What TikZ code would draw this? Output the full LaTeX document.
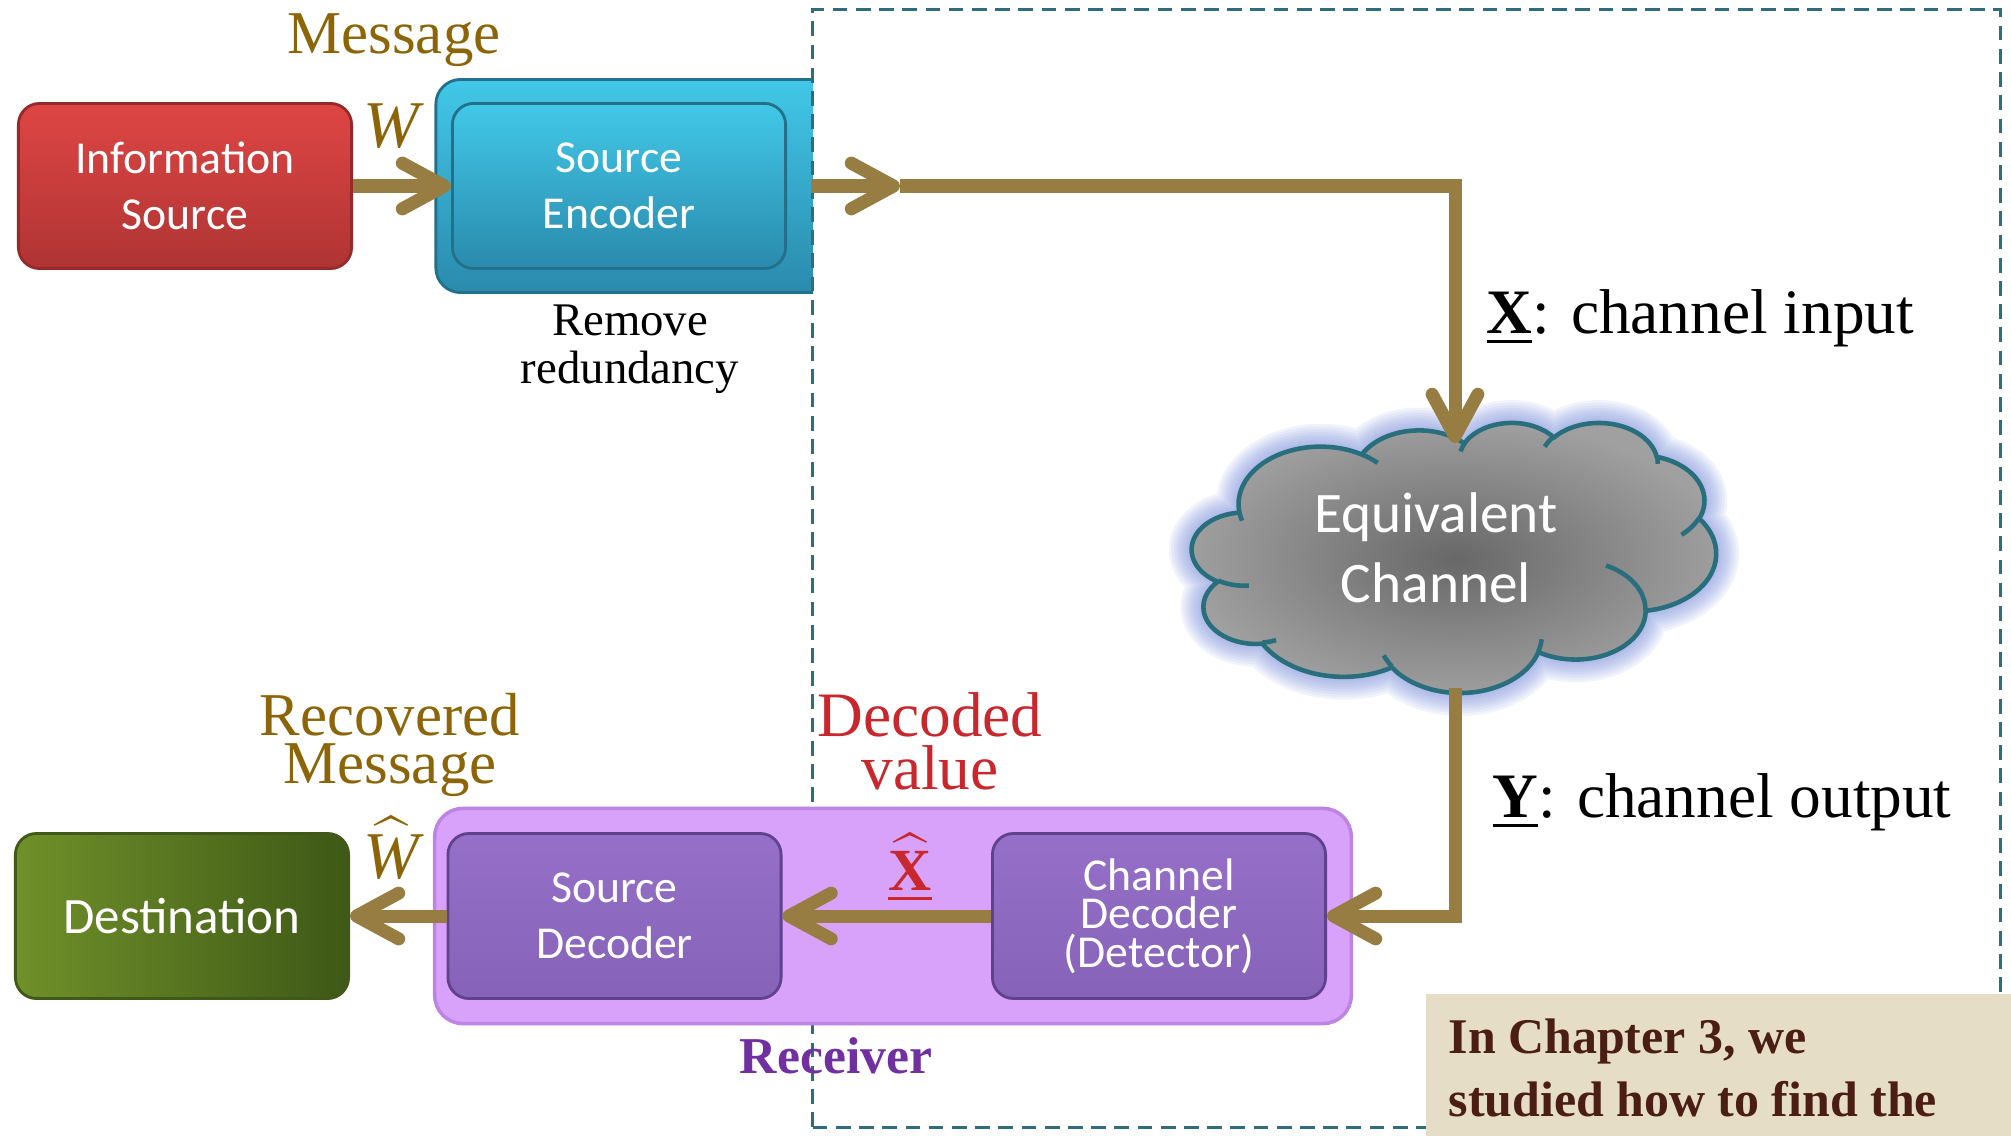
\documentclass[tikz,border=0pt]{standalone}
\usepackage{exscale}
\usepackage{fontspec}
\setmainfont{Liberation Serif}
\newfontfamily\boxfont{Carlito}
\usetikzlibrary{arrows.meta}

\definecolor{arrowgold}{RGB}{151,125,66}
\definecolor{labelgold}{RGB}{139,101,8}
\definecolor{labelred}{RGB}{200,40,45}
\definecolor{labelpurple}{RGB}{112,48,160}
\definecolor{notebrown}{RGB}{74,30,20}
\definecolor{notetan}{RGB}{229,221,198}
\definecolor{frameteal}{RGB}{47,108,125}
\definecolor{redtop}{RGB}{222,70,68}
\definecolor{redbot}{RGB}{175,52,52}
\definecolor{redline}{RGB}{150,42,42}
\definecolor{cyantop}{RGB}{66,200,232}
\definecolor{cyanbot}{RGB}{42,138,172}
\definecolor{cyanline}{RGB}{36,112,140}
\definecolor{purplelight}{RGB}{216,162,250}
\definecolor{purplelightline}{RGB}{190,132,228}
\definecolor{purpletop}{RGB}{150,112,200}
\definecolor{purplebot}{RGB}{134,98,184}
\definecolor{purpleline}{RGB}{96,66,140}
\definecolor{greenleft}{RGB}{112,144,42}
\definecolor{greenright}{RGB}{62,88,22}
\definecolor{greenline}{RGB}{64,88,24}
\definecolor{cloudline}{RGB}{40,110,125}
\definecolor{cloudglow}{RGB}{125,145,222}
\definecolor{cloudin}{RGB}{104,104,104}
\definecolor{cloudout}{RGB}{160,160,160}

% Cloud outline built from elliptic arcs.  Each arc is given by its radii and
% by start/sweep angles measured as seen on the ellipse; TikZ wants the
% parametric angles, so convert them once here.
\newcommand\cloudarcdef[5]{%
  \pgfmathsetmacro\clTmpS{atan2((#2)*sin(#4),(#3)*cos(#4))}%
  \pgfmathsetmacro\clTmpE{atan2((#2)*sin((#4)+(#5)),(#3)*cos((#4)+(#5)))}%
  \pgfmathsetmacro\clTmpD{\clTmpE-\clTmpS}%
  \pgfmathsetmacro\clTmpD{(\clTmpD<0) ? \clTmpD+360 : \clTmpD}%
  \expandafter\xdef\csname clx#1\endcsname{#2}%
  \expandafter\xdef\csname cly#1\endcsname{#3}%
  \expandafter\xdef\csname cls#1\endcsname{\clTmpS}%
  \expandafter\xdef\csname cld#1\endcsname{\clTmpD}%
}
% outer puffs
\cloudarcdef{A}{6.753}{9.190}{-190.48748}{123.78053}
\cloudarcdef{B}{5.333}{7.267}{-144.10238}{89.94523}
\cloudarcdef{C}{4.365}{5.945}{-145.80792}{99.72302}
\cloudarcdef{D}{4.857}{6.595}{-130.98607}{117.24173}
\cloudarcdef{E}{5.333}{7.273}{-78.70888}{109.02692}
\cloudarcdef{F}{6.775}{9.220}{-46.26725}{130.26900}
\cloudarcdef{G}{5.785}{7.867}{0.62502}{114.03333}
\cloudarcdef{H}{6.752}{9.215}{22.45160}{115.17255}
\cloudarcdef{I}{7.720}{10.543}{66.24263}{75.71102}
\cloudarcdef{J}{4.360}{5.918}{-274.94208}{146.73557}
\cloudarcdef{K}{4.345}{5.945}{-246.82850}{152.51885}
% inner creases
\cloudarcdef{a}{4.345}{5.945}{86.74200}{26.42950}
\cloudarcdef{b}{4.360}{5.918}{73.61047}{11.44747}
\cloudarcdef{c}{6.752}{9.215}{137.62415}{14.08110}
\cloudarcdef{d}{6.752}{9.215}{6.45327}{15.99835}
\cloudarcdef{e}{5.785}{7.867}{-70.29235}{70.91737}
\cloudarcdef{f}{5.333}{7.273}{30.31803}{27.75150}
\cloudarcdef{g}{4.857}{6.595}{-13.74433}{14.85890}
\cloudarcdef{h}{4.857}{6.595}{-149.18145}{18.19537}
\cloudarcdef{i}{4.365}{5.945}{-163.49427}{17.68635}
\cloudarcdef{j}{6.753}{9.190}{-66.70695}{12.31935}
\cloudarcdef{k}{6.753}{9.190}{157.65435}{11.85817}

\newcommand\cloudoutline{(3.9,14.37) arc[clarc=A] arc[clarc=B] arc[clarc=C]
  arc[clarc=D] arc[clarc=E] arc[clarc=F] arc[clarc=G] arc[clarc=H]
  arc[clarc=I] arc[clarc=J] arc[clarc=K] -- cycle}
\newcommand\cloudcreases{(4.693,26.177) arc[clarc=a] (6.928,34.899) arc[clarc=b]
  (16.478,39.09) arc[clarc=c] (28.827,34.751) arc[clarc=d]
  (34.129,22.954) arc[clarc=e] (41.798,15.354) arc[clarc=f]
  (38.324,5.426) arc[clarc=g] (29.078,3.952) arc[clarc=h]
  (22.141,4.72) arc[clarc=i] (14.0,5.192) arc[clarc=j]
  (4.127,15.789) arc[clarc=k]}

\tikzset{
  clarc/.style={x radius=\csname clx#1\endcsname, y radius=\csname cly#1\endcsname,
    start angle=\csname cls#1\endcsname, delta angle=\csname cld#1\endcsname},
  flow/.style={draw=arrowgold, line width=3.7pt,
    -{Straight Barb[length=12pt,width=13pt,round]}},
  panel/.style={rounded corners=6pt, line width=0.8pt, minimum width=3.33cm,
    minimum height=1.65cm, text=white, align=center,
    font=\boxfont\fontsize{13}{16}\selectfont},
  redpanel/.style={panel, top color=redtop, bottom color=redbot, draw=redline},
  cyanpanel/.style={panel, top color=cyantop, bottom color=cyanbot, draw=cyanline},
  violetpanel/.style={panel, top color=purpletop, bottom color=purplebot, draw=purpleline},
  greenpanel/.style={panel, left color=greenleft, right color=greenright, draw=greenline},
  plaintext/.style={inner sep=0pt, align=center},
  goldtext/.style={plaintext, text=labelgold, font=\fontsize{17.3}{13.4}\selectfont},
}

\begin{document}
\begin{tikzpicture}[x=0.01cm, y=-0.01cm]
\useasboundingbox (0,0) rectangle (2011,1136);
\fill[white] (0,0) rectangle (2011,1136);

% transmitter side
\node[redpanel] (info) at (185,186) {Information\\Source};
\begin{scope}
  \clip (0,0) rectangle (813,1136);
  \node[rounded corners=7pt, top color=cyantop, bottom color=cyanbot, draw=cyanline,
    line width=0.8pt, minimum width=4.5cm, minimum height=2.13cm] (encframe) at (661,186) {};
\end{scope}
\node[cyanpanel] (enc) at (619,186) {Source\\Encoder};
\node[greenpanel, font=\boxfont\fontsize{14.5}{17}\selectfont] (dest) at (182,916) {Destination};

% dashed frame round the channel part
\node[draw=frameteal, line width=0.9pt, dash pattern=on 4.2pt off 2.4pt, inner sep=0pt,
  minimum width=11.87cm, minimum height=11.17cm] (chanframe) at (1406.5,568.5) {};

% receiver
\node[rounded corners=8pt, fill=purplelight, draw=purplelightline, line width=1pt,
  minimum width=9.16cm, minimum height=2.15cm] (rx) at (893,916) {};
\node[violetpanel] (sdec) at (614.5,916) {Source\\Decoder};
\node[violetpanel, font=\boxfont\fontsize{13}{11}\selectfont] (cdec) at (1159,916)
  {Channel\\Decoder\\(Detector)};

% note in the corner
\node[fill=notetan, inner sep=0pt, minimum width=5.85cm, minimum height=1.42cm] (note)
  at (1718.5,1065) {};

% equivalent channel cloud, with a soft glow round it
\begin{scope}[shift={(1192,422)}, x=1cm, y=1cm, xscale=0.01*524/43.2, yscale=-0.01*270/43.2]
  \foreach \w in {13pt,11.5pt,10pt,8.5pt,7pt,5.5pt,4pt,2.5pt}
    \draw[cloudglow, line width=\w, opacity=0.1, line join=round] \cloudoutline;
  \shade[inner color=cloudin, outer color=cloudout] \cloudoutline;
  \draw[cloudline, line width=1.3pt] \cloudoutline;
  \draw[cloudline, line width=1.3pt] \cloudcreases;
\end{scope}
\node[plaintext, text=white, font=\boxfont\fontsize{16.3}{19.9}\selectfont] (chan)
  at (1436,548) {Equivalent\\Channel};

% signal flow
\coordinate (xmid) at (900,186);
\coordinate (cloudtop) at (1455,443);
\coordinate (cloudbot) at (1455,688);
\draw[flow] (info.east) -- (enc.west);
\draw[flow] (enc.east -| chanframe.west) -- (xmid);
\draw[flow] (xmid) -| (cloudtop);
\draw[flow] (cloudbot) |- (cdec.east);
\draw[flow] (cdec.west) -- (sdec.east);
\draw[flow] (sdec.west) -- (dest.east);

% labels
\node[goldtext, anchor=base] (msglab) at (394,53) {Message};
\node[goldtext, font=\fontsize{19}{22}\selectfont\itshape, anchor=base] (wlab) at (391,147) {W};
\node[plaintext, font=\fontsize{13.3}{13.7}\selectfont] (remlab) at (630,349) {Remove\\redundancy};
\node[plaintext, anchor=base west, font=\fontsize{18}{20}\selectfont] (xlab) at (1486,333)
  {\underline{\textbf{X}}: channel input};
\node[plaintext, anchor=base west, font=\fontsize{18}{20}\selectfont] (ylab) at (1492,817)
  {\underline{\textbf{Y}}: channel output};
\node[goldtext] (recmsg) at (390,745) {Recovered\\Message};
\node[plaintext, text=labelred, font=\fontsize{18}{15.1}\selectfont] (declab) at (930,741) {Decoded\\value};
\node[goldtext, font=\fontsize{19}{22}\selectfont\itshape, anchor=base] (whatlab) at (391,878)
  {$\widehat{\hbox{W}}$};
\node[plaintext, text=labelred, font=\fontsize{17}{20}\selectfont\bfseries, anchor=base] (xhatlab)
  at (910,890) {\underline{$\widehat{\hbox{X}}$}};
\node[plaintext, text=labelpurple, font=\fontsize{14.7}{17}\selectfont\bfseries, anchor=base]
  (rxlab) at (836,1073) {Receiver};
\node[plaintext, align=left, anchor=north west, text=notebrown,
  font=\fontsize{14.2}{17.9}\selectfont\bfseries] (notetext) at (1448,1018)
  {In Chapter 3, we\\studied how to find the};
\end{tikzpicture}
\end{document}
